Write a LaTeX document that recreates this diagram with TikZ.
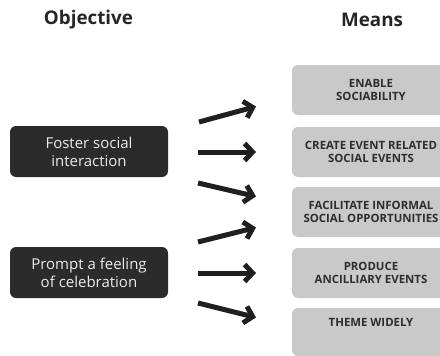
\documentclass[tikz,border=0pt]{standalone}
\usepackage{fontspec}
\setmainfont{Open Sans}
\usetikzlibrary{arrows.meta}
\definecolor{darkbox}{HTML}{2B2B2B}
\definecolor{greybox}{HTML}{C9C9C9}
\definecolor{greytext}{HTML}{2E2E2E}
\definecolor{headtext}{HTML}{262626}
\tikzset{
  heading/.style={font=\bfseries\fontsize{18.8}{22}\selectfont, text=headtext},
  objbox/.style={fill=darkbox, rounded corners=6pt, minimum width=158pt, minimum height=51pt,
    text=white!92!black, align=center, font=\fontsize{15}{18}\selectfont, inner sep=0pt},
  meanbox/.style={fill=greybox, rounded corners=6pt, minimum width=158pt, minimum height=50pt,
    text=greytext, align=center, font=\bfseries\fontsize{11.4}{13.5}\selectfont, inner sep=0pt},
  arr/.style={draw=black!88, line width=5pt, -{Straight Barb[length=8pt,width=17pt]}}
}
\begin{document}
\begin{tikzpicture}[x=1pt,y=-1pt]
\useasboundingbox (0,0) rectangle (440,356);
\node[heading] (hobj) at (88.5,20) {Objective};
\node[heading] (hmeans) at (372,20) {Means};

\node[objbox] (o1) at (89,151.5) {Foster social\\interaction};
\node[objbox] (o2) at (89,272.5) {Prompt a feeling\\of celebration};

\node[meanbox] (m1) at (371,90) {ENABLE\\SOCIABILITY};
\node[meanbox] (m2) at (371,152) {CREATE EVENT RELATED\\SOCIAL EVENTS};
\node[meanbox] (m3) at (371,212) {FACILITATE INFORMAL\\SOCIAL OPPORTUNITIES};
\node[meanbox] (m4) at (371,273) {PRODUCE\\ANCILLIARY EVENTS};
\node[meanbox, minimum height=48pt] (m5) at (371,332) {THEME WIDELY\\[5pt]\mbox{}};

\coordinate (a1s) at (199,122); \coordinate (a1e) at (256,106.5);
\coordinate (a2s) at (198,152); \coordinate (a2e) at (256,152);
\coordinate (a3s) at (198,183); \coordinate (a3e) at (256,196.5);
\coordinate (a4s) at (198,242); \coordinate (a4e) at (256,227.5);
\coordinate (a5s) at (198,273); \coordinate (a5e) at (256,273);
\coordinate (a6s) at (198,303); \coordinate (a6e) at (256,317.5);

\draw[arr] (a1s) -- (a1e);
\draw[arr] (a2s) -- (a2e);
\draw[arr] (a3s) -- (a3e);
\draw[arr] (a4s) -- (a4e);
\draw[arr] (a5s) -- (a5e);
\draw[arr] (a6s) -- (a6e);
\end{tikzpicture}
\end{document}
